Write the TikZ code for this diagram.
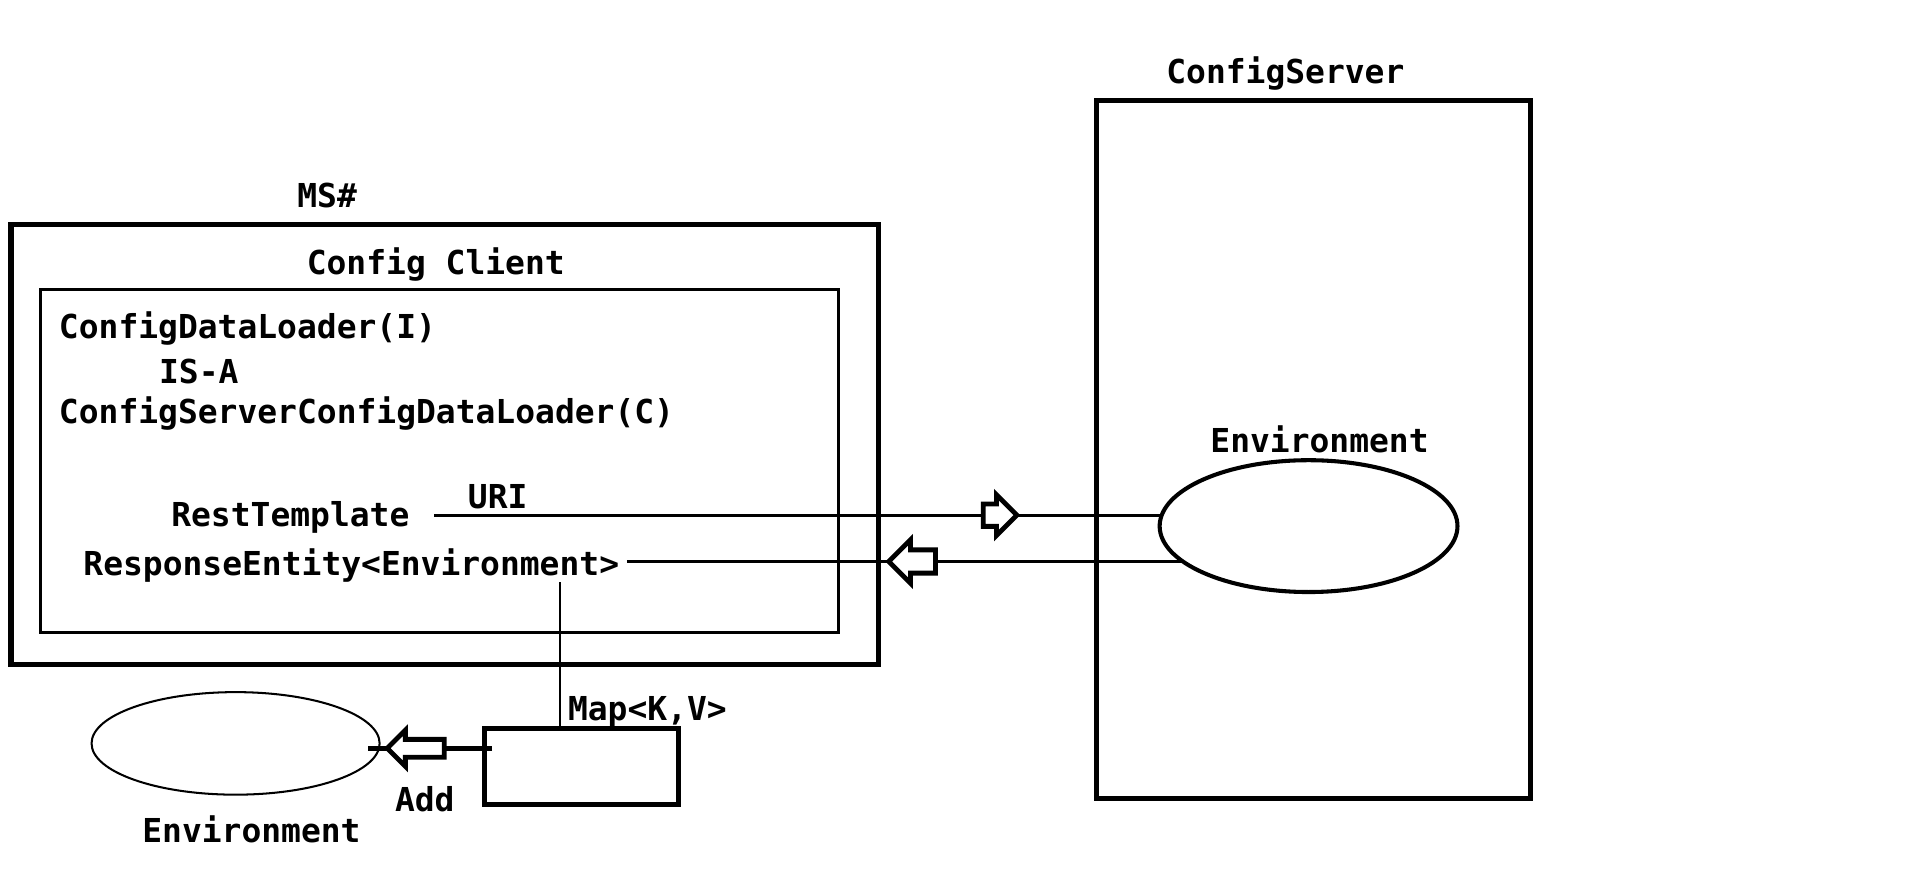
\documentclass[tikz,border=0pt]{standalone}
\usepackage{fontspec}
\setmonofont{DejaVu Sans Mono}
\usetikzlibrary{shapes.geometric,shapes.arrows}

\tikzset{
    lbl/.style={font=\ttfamily\bfseries\fontsize{16.2}{19}\selectfont, inner sep=0pt},
    boxthick/.style={draw, line width=2.5pt, inner sep=0pt},
    boxthin/.style={draw, line width=1.3pt, inner sep=0pt},
    conn/.style={line width=1.5pt},
    openarrow/.style={single arrow, draw, fill=white, line width=2.4pt, inner sep=4.3pt,
        single arrow head extend=4.5pt, single arrow head indent=0pt},
}

\begin{document}
\begin{tikzpicture}[x=0.6pt,y=-0.6pt]
    \useasboundingbox (0,0) rectangle (1568,730);

    \node[boxthick, minimum width=213.6pt, minimum height=343.2pt] (server) at (1076,368) {};
    \node[lbl] (srvlbl) at (1053,60) {ConfigServer};
    \node[lbl] (srvenvlbl) at (1081,360) {Environment};

    \node[boxthick, minimum width=426.6pt, minimum height=216pt] (ms) at (364.5,364) {};
    \node[lbl] (mslbl) at (268,160) {MS\#};
    \node[boxthin, minimum width=392.4pt, minimum height=168.6pt] (client) at (360,377.5) {};
    \node[lbl] (clientlbl) at (357,217) {Config Client};

    \node[lbl, anchor=west] (loader) at (48,269) {ConfigDataLoader(I)};
    \node[lbl, anchor=west] (isa) at (130,304) {IS-A};
    \node[lbl, anchor=west] (srvloader) at (48,339) {ConfigServerConfigDataLoader(C)};
    \node[lbl, anchor=west] (rt) at (140,424) {RestTemplate};
    \node[lbl, anchor=west] (uri) at (383,407) {URI};
    \node[lbl, anchor=west] (re) at (68,463) {ResponseEntity<Environment>};

    \node[boxthick, minimum width=95.4pt, minimum height=37.2pt] (mapbox) at (476.5,628) {};
    \node[lbl, anchor=west] (maplbl) at (465,583) {Map<K,V>};
    \coordinate (mapin) at (459,597);
    \coordinate (addy) at (0,613);

    % request and response
    \draw[conn, shorten <=12pt] ([yshift=1.2pt]rt.east) -- node[openarrow, pos=0.647, minimum height=15pt] {} ([yshift=1.2pt]rt.east -| server.center);
    \draw[conn, shorten <=3.6pt] ([yshift=1.8pt]re.east) -- node[openarrow, pos=0.43, minimum height=23pt, inner sep=4.5pt, single arrow head extend=5pt, shape border rotate=180] {} ([yshift=1.8pt]re.east -| server.center);
    \node[ellipse, draw, fill=white, line width=2pt, minimum width=146.4pt, minimum height=64.8pt] (senv) at (1072,431) {};

    \draw[line width=1pt] (re.south -| mapin) -- (mapin);

    \node[ellipse, draw, line width=1pt, minimum width=141.6pt, minimum height=50.4pt] (lenv) at (193,609) {};
    \draw[line width=2.2pt, shorten <=-5pt, shorten >=-6pt] (mapbox.west |- addy) -- node[openarrow, pos=0.61, minimum height=28pt, inner sep=3.2pt, single arrow head extend=4.5pt, shape border rotate=180] {} (lenv.east |- addy);
    \node[lbl] (addlbl) at (348,655) {Add};
    \node[lbl] (lenvlbl) at (206,679) {Environment};
\end{tikzpicture}
\end{document}
